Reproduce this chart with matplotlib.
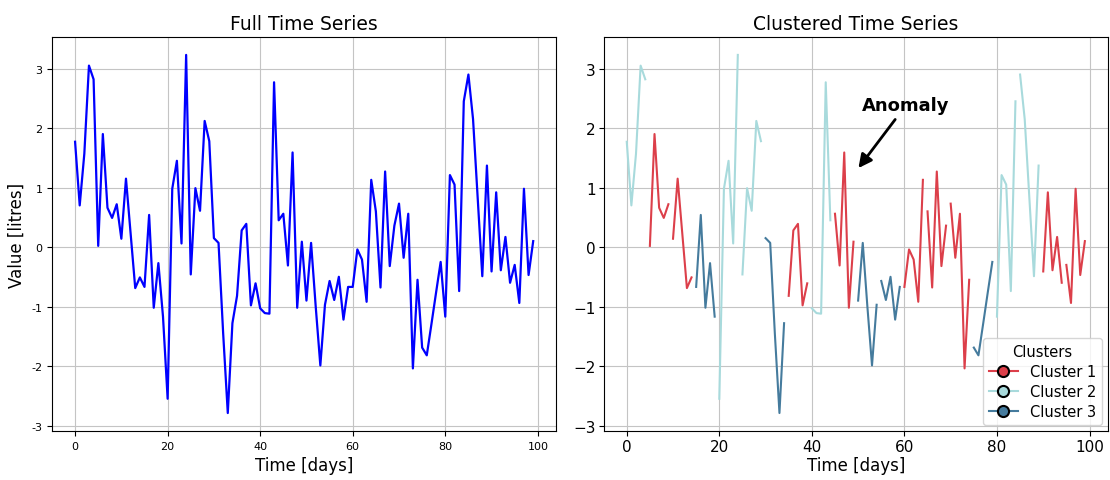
import numpy as np
import matplotlib
matplotlib.use("Agg")
import matplotlib.pyplot as plt
from matplotlib.lines import Line2D

# valores diarios
dias = np.arange(100)
valores = [1.77, 0.70, 1.57, 3.05, 2.82, 0.02, 1.90, 0.66, 0.49, 0.72,
           0.14, 1.15, 0.23, -0.69, -0.51, -0.67, 0.54, -1.02, -0.27, -1.17,
           -2.55, 0.98, 1.45, 0.06, 3.23, -0.46, 0.99, 0.61, 2.12, 1.78,
           0.15, 0.07, -1.45, -2.79, -1.28, -0.82, 0.28, 0.39, -0.98, -0.61,
           -1.03, -1.11, -1.12, 2.77, 0.45, 0.56, -0.31, 1.59, -1.02, 0.09,
           -0.90, 0.07, -1.00, -1.99, -0.97, -0.57, -0.89, -0.50, -1.22, -0.67,
           -0.67, -0.04, -0.21, -0.92, 1.13, 0.60, -0.68, 1.27, -0.32, 0.36,
           0.73, -0.18, 0.56, -2.04, -0.55, -1.69, -1.82, -1.30, -0.77, -0.25,
           -1.17, 1.21, 1.05, -0.74, 2.45, 2.90, 2.15, 0.83, -0.49, 1.37,
           -0.41, 0.92, -0.39, 0.17, -0.60, -0.30, -0.94, 0.98, -0.47, 0.10]

# cluster de cada ventana de 5 dias
ventana = 5
clusters_ventana = [2, 1, 1, 3, 2, 2, 3, 1, 2, 1, 3, 3, 1, 1, 1, 3, 2, 2, 1, 1]

nombres = ["Cluster 1", "Cluster 2", "Cluster 3"]
colores = {1: "#dc3f4a", 2: "#a8dadc", 3: "#457b9d"}

ticks_y = [-3, -2, -1, 0, 1, 2, 3]

fig = plt.figure(figsize=(11.1, 4.81), dpi=100)
ax1 = fig.add_axes([0.047, 0.102, 0.454, 0.819])
ax2 = fig.add_axes([0.544, 0.102, 0.454, 0.819])

# serie completa
ax1.plot(dias, valores, color="#0000ff", lw=1.6)
ax1.set_title("Full Time Series", fontsize=13.5)
ax1.set_xlabel("Time [days]", fontsize=12)
ax1.set_ylabel("Value [litres]", fontsize=12)
ax1.set_yticks(ticks_y, labels=[str(t) for t in ticks_y])
ax1.tick_params(labelsize=8)
ax1.grid(True, color="#c4c4c4")

# serie por clusters
for i, c in enumerate(clusters_ventana):
    ini = i * ventana
    fin = ini + ventana
    ax2.plot(dias[ini:fin], valores[ini:fin], color=colores[c], lw=1.5)

ax2.set_title("Clustered Time Series", fontsize=13.5)
ax2.set_xlabel("Time [days]", fontsize=12, labelpad=1)
ax2.set_yticks(ticks_y)
ax2.tick_params(labelsize=11, pad=2.5)
ax2.grid(True, color="#c4c4c4")

ax2.annotate("Anomaly", xy=(49.7, 1.29), xytext=(60.3, 2.38),
             ha="center", va="center", fontsize=13, fontweight="bold",
             arrowprops=dict(arrowstyle="-|>", color="black", lw=2,
                             mutation_scale=20))

handles = [Line2D([0], [0], color=colores[k], marker="o", markersize=8,
                  markeredgecolor="black", markeredgewidth=1.5, lw=1.5)
           for k in (1, 2, 3)]
ax2.legend(handles, nombres, title="Clusters", loc="lower right",
           fontsize=10.5, title_fontsize=10.5, borderaxespad=0.4,
           labelspacing=0.35)

fig.savefig("out.png", dpi=100)
